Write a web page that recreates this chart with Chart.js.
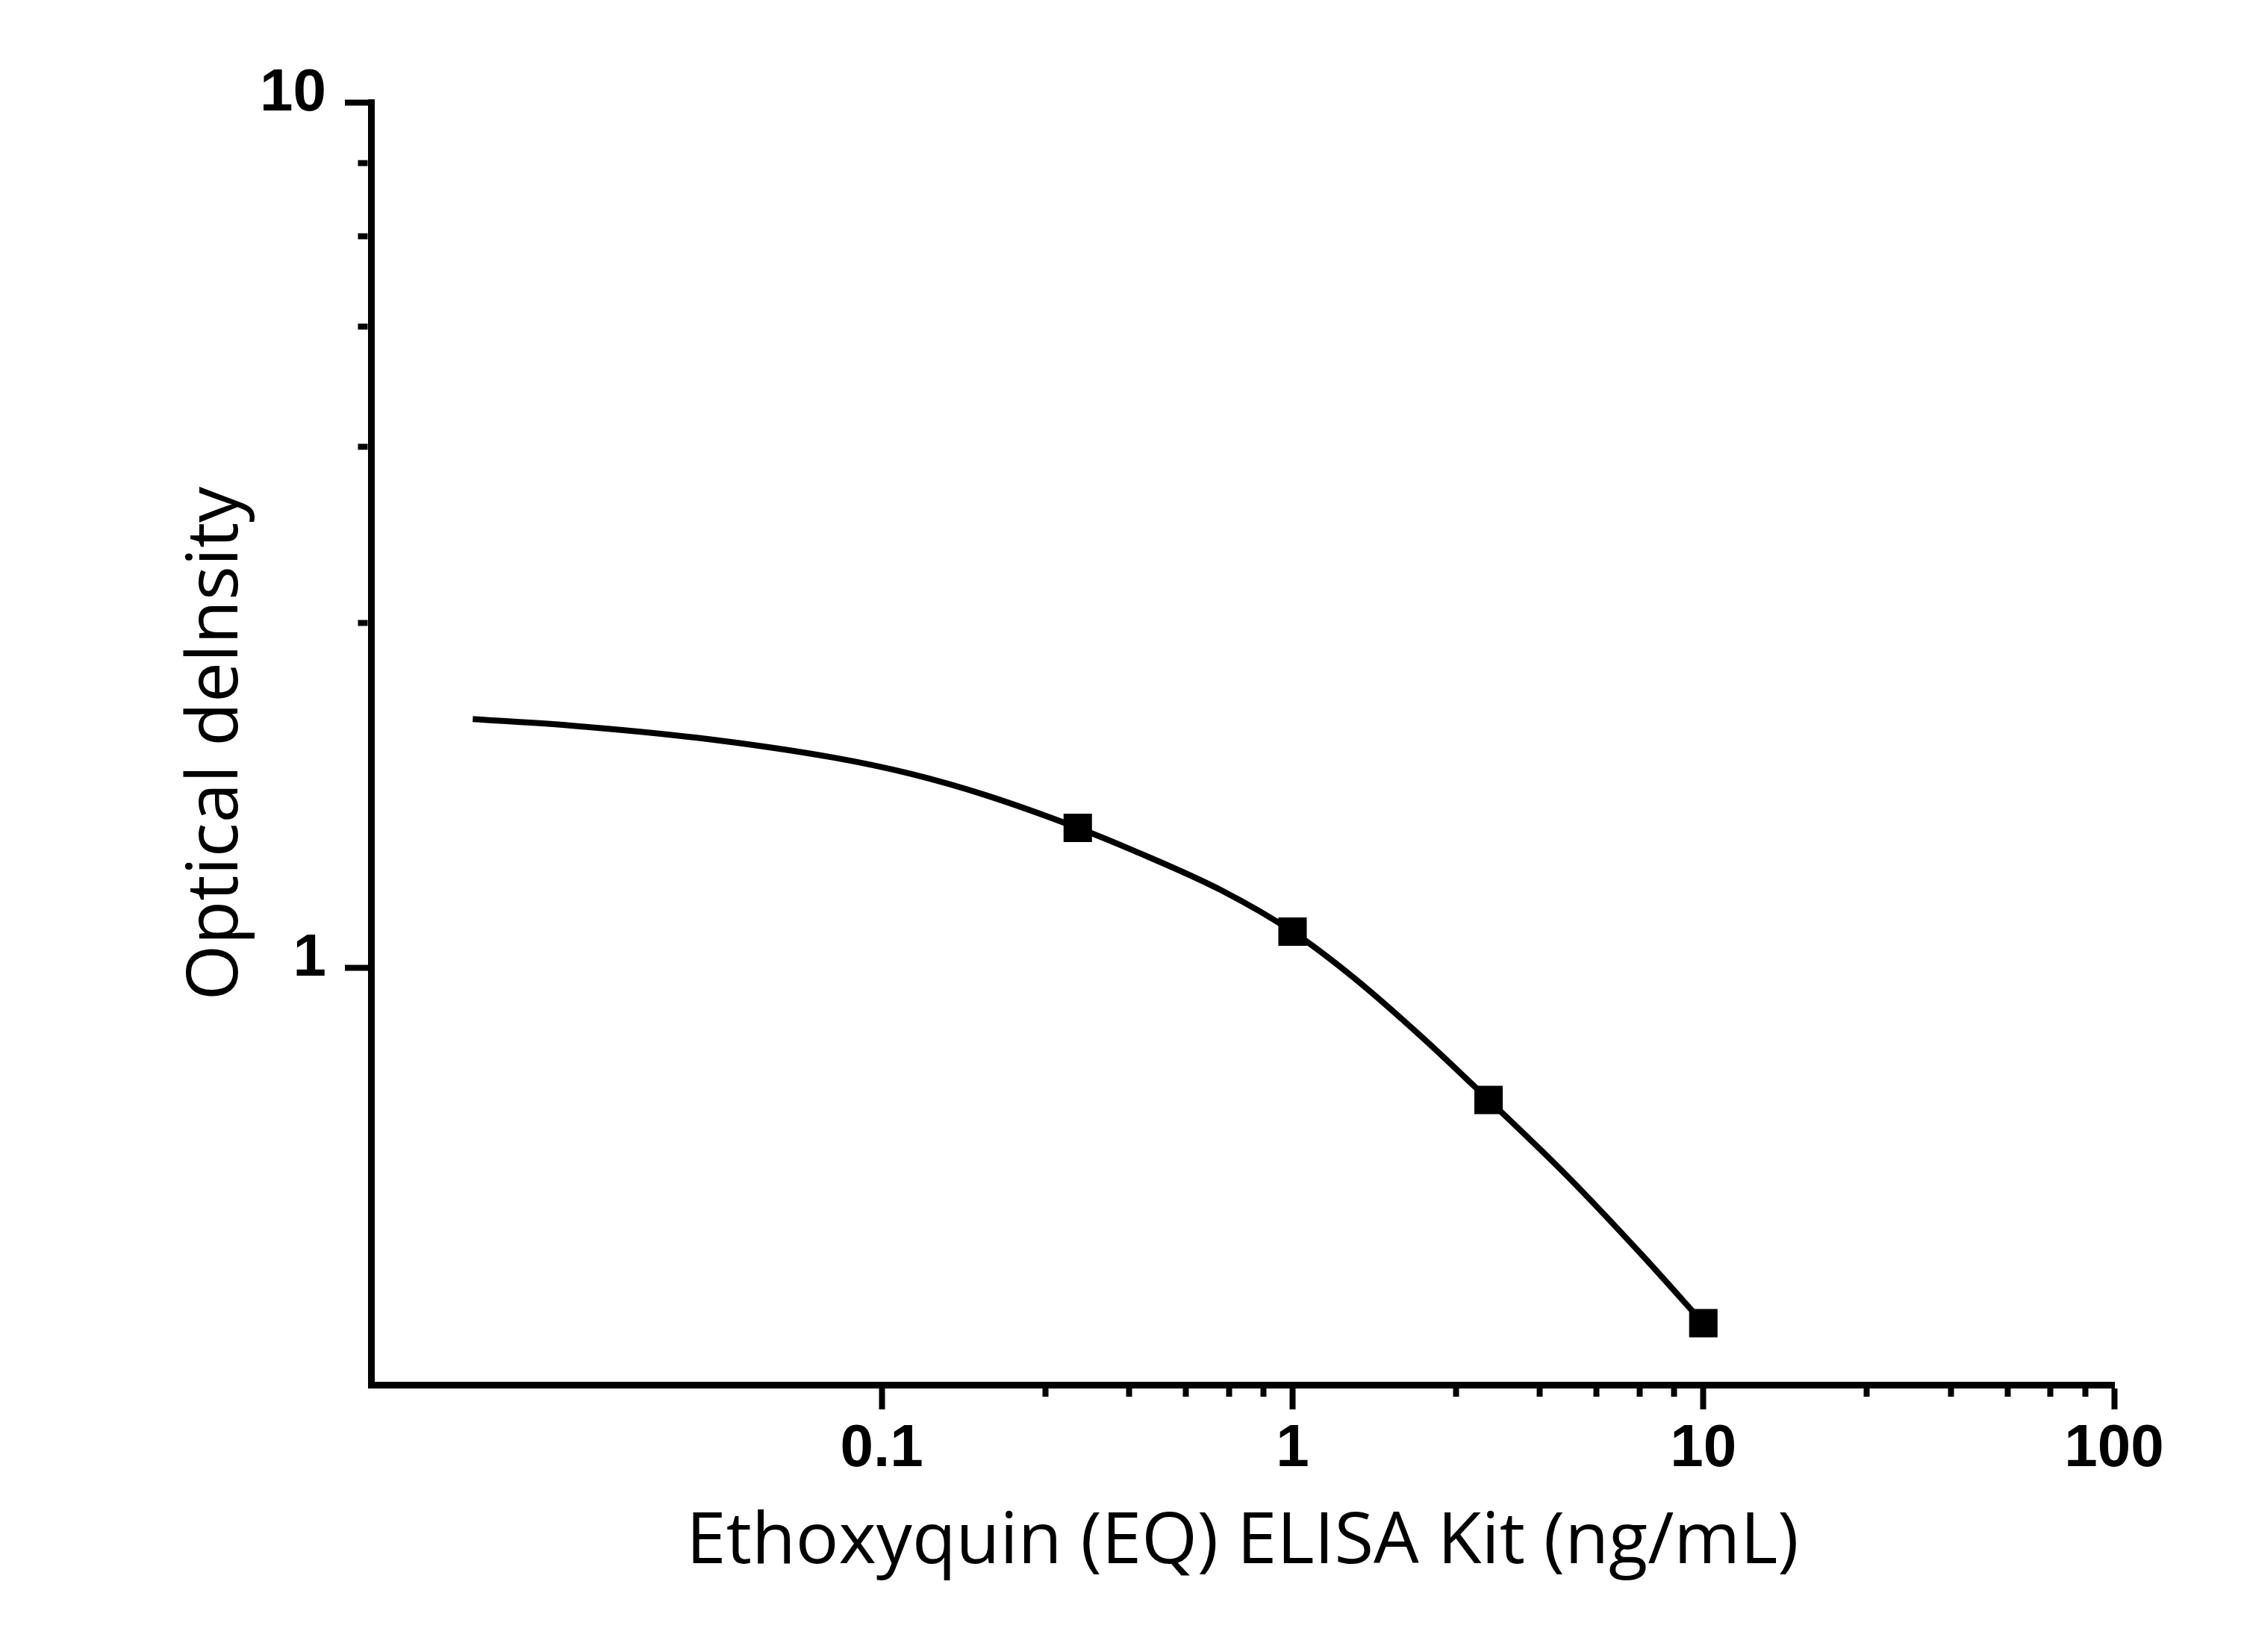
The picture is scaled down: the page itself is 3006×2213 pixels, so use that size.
<!DOCTYPE html>
<html>
<head>
<meta charset="utf-8">
<script src="https://cdn.jsdelivr.net/npm/chart.js@4.4.1/dist/chart.umd.min.js"></script>
<style>
  html, body { margin: 0; padding: 0; background: #fff; }
  canvas { display: block; }
</style>
</head>
<body>
<canvas id="chart" width="3006" height="2213"></canvas>
<script>
// fitted standard curve
const curveX = [0.0101, 0.0177, 0.0355, 0.0764, 0.1177, 0.1789, 0.3, 0.413, 0.673, 1, 1.405, 2.077, 3, 4.664, 7.087, 10];
const curveY = [1.937, 1.903, 1.843, 1.748, 1.674, 1.582, 1.45, 1.363, 1.227, 1.10, 0.9745, 0.829, 0.703, 0.574, 0.4654, 0.388];

// measured standards
const pointX = [0.3, 1, 3, 10];
const pointY = [1.45, 1.10, 0.703, 0.388];

// axis ticks (Origin style: 5 linear minor ticks per decade)
const xMajor = [0.1, 1, 10, 100];
const xMinor = [0.25, 0.4, 0.55, 0.7, 0.85, 2.5, 4, 5.5, 7, 8.5, 25, 40, 55, 70, 85];
const yMajor = [1, 10];
const yMinor = [2.5, 4, 5.5, 7, 8.5];

const xTitle = 'Ethoxyquin (EQ) ELISA Kit (ng/mL)';
const yTitle = 'Optical delnsity';

const tickFont = { family: "'Liberation Sans', Arial, sans-serif", size: 80, weight: 'bold' };
const titleFont = { family: "'Open Sans', 'Noto Sans', sans-serif", size: 96, weight: 'normal' };

function makeTicks(major, minor) {
  return major.map(v => ({ value: v, major: true }))
    .concat(minor.map(v => ({ value: v, major: false })))
    .sort((a, b) => a.value - b.value);
}

const ctx = document.getElementById('chart').getContext('2d');

new Chart(ctx, {
  type: 'scatter',
  data: {
    datasets: [
      {
        label: 'standards',
        data: pointX.map((x, i) => ({ x: x, y: pointY[i] })),
        pointStyle: 'rect',
        pointRadius: 26.9,
        backgroundColor: '#000',
        borderColor: '#000',
        borderWidth: 0,
        showLine: false,
        order: 0,
      },
      {
        label: 'fit',
        data: curveX.map((x, i) => ({ x: x, y: curveY[i] })),
        showLine: true,
        borderColor: '#000',
        borderWidth: 8,
        pointRadius: 0,
        pointHitRadius: 0,
        cubicInterpolationMode: 'monotone',
        fill: false,
        order: 1,
      },
    ],
  },
  options: {
    responsive: false,
    devicePixelRatio: 1,
    animation: false,
    layout: {
      padding: { left: 0, top: 137, right: 174, bottom: 0 },
    },
    plugins: {
      legend: { display: false },
      tooltip: { enabled: false },
    },
    scales: {
      x: {
        type: 'logarithmic',
        position: 'bottom',
        bounds: 'data', // keep min/max exactly as given
        min: 0.00571,
        max: 100,
        afterBuildTicks: (scale) => { scale.ticks = makeTicks(xMajor, xMinor); },
        afterFit: (scale) => { scale.height = 358; },
        border: { display: true, color: '#000', width: 9 },
        grid: {
          drawOnChartArea: false,
          drawTicks: true,
          tickLength: 33,
          tickWidth: 8,
          tickColor: '#000',
          // minor ticks: short dash from the axis outwards
          tickBorderDash: (c) => (c.tick && c.tick.major) ? [] : [11, 1000],
        },
        ticks: {
          autoSkip: false,
          maxRotation: 0,
          padding: 6,
          color: '#000',
          font: tickFont,
          callback: (value, index, ticks) => ticks[index].major ? String(value) : '',
        },
        title: {
          display: true,
          text: xTitle,
          color: '#000',
          font: titleFont,
          padding: { top: 0, bottom: 89 },
        },
      },
      y: {
        type: 'logarithmic',
        position: 'left',
        bounds: 'data',
        min: 0.3294,
        max: 10,
        afterBuildTicks: (scale) => { scale.ticks = makeTicks(yMajor, yMinor); },
        afterFit: (scale) => { scale.width = 497; },
        border: { display: true, color: '#000', width: 9 },
        grid: {
          drawOnChartArea: false,
          drawTicks: true,
          tickLength: 35,
          tickWidth: 8,
          tickColor: '#000',
          // ticks are drawn from the outer end towards the axis
          tickBorderDash: (c) => (c.tick && c.tick.major) ? [] : [0, 17.5, 13, 1000],
        },
        ticks: {
          autoSkip: false,
          padding: 25,
          labelOffset: -11,
          color: '#000',
          font: tickFont,
          callback: (value, index, ticks) => ticks[index].major ? String(value) : '',
        },
        title: {
          display: true,
          text: yTitle,
          color: '#000',
          font: titleFont,
          padding: { top: 233, bottom: 0 },
        },
      },
    },
  },
});
</script>
</body>
</html>
